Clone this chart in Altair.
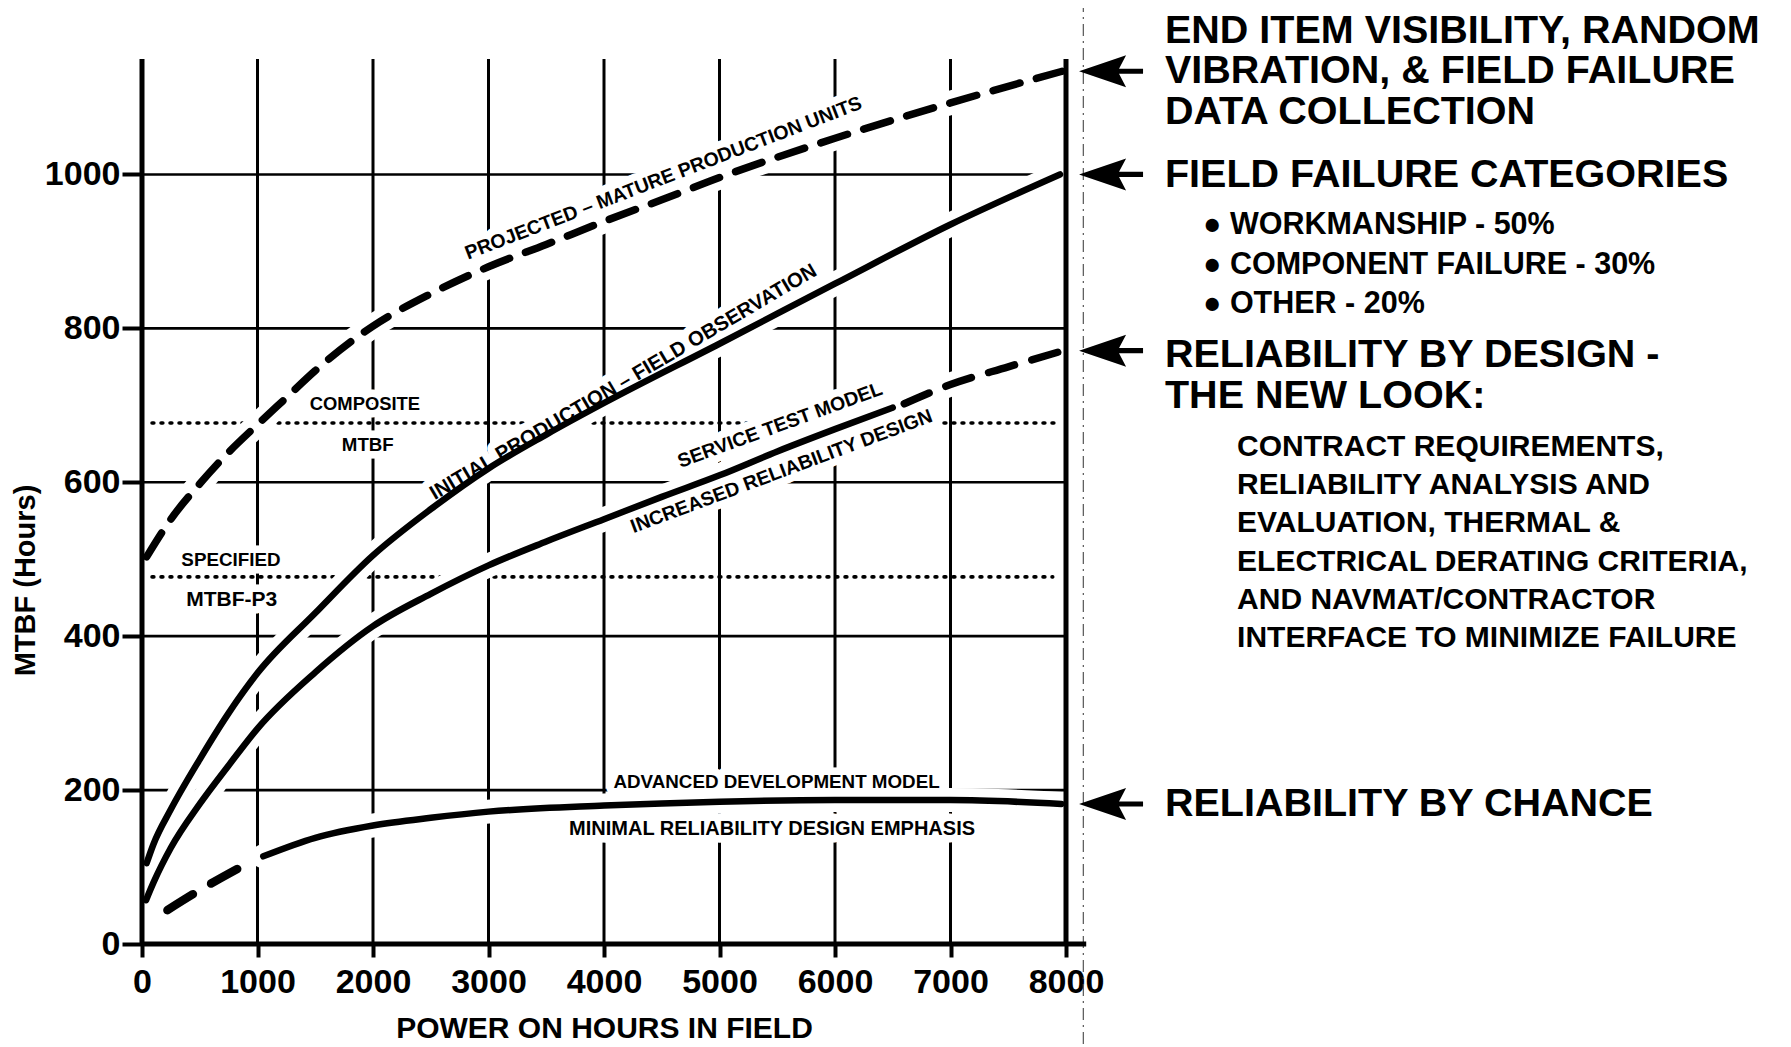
import altair as alt
import pandas as pd

# ---------------- data ----------------
X_TICKS = [0, 1000, 2000, 3000, 4000, 5000, 6000, 7000, 8000]
Y_TICKS = [0, 200, 400, 600, 800, 1000]
V_GRID = [1000, 2000, 3000, 4000, 5000, 6000, 7000]
H_GRID = [200, 400, 600, 800, 1000]

# Projected - mature production units (dashed)
proj_x = [40, 250, 500, 750, 1000, 1250, 1500, 2000, 2500, 3000, 3500, 4000, 4500, 5000, 6000, 7000, 7965]
proj_y = [503, 552, 598, 639, 675, 710, 745, 803, 845, 880, 909, 939, 967, 996, 1047, 1093, 1134]

# Initial production - field observation (solid)
init_x = [40, 100, 250, 500, 750, 1000, 1500, 2000, 2500, 3000, 3500, 4000, 5000, 6000, 7000, 7948]
init_y = [105, 130, 175, 240, 300, 352, 430, 505, 565, 618, 662, 703, 780, 858, 935, 1000]

# Service test model (solid part, then dashed)
stm_x = [35, 100, 250, 500, 750, 1000, 1500, 2000, 2500, 3000, 3500, 4000, 4500, 5000, 5500, 6000, 6500]
stm_y = [57, 80, 125, 182, 232, 280, 353, 413, 455, 492, 523, 552, 581, 609, 640, 669, 697]
stm_dash_x = [6600, 7000, 7500, 7930]
stm_dash_y = [702, 727, 750, 769]

# Advanced development model (dashed start, then solid)
adm_dash_x = [220, 500, 880]
adm_dash_y = [44, 70, 102]
adm_x = [1050, 1500, 2000, 2500, 3000, 4000, 5000, 6000, 7000, 7960]
adm_y = [114, 138, 154, 164, 172, 180, 185, 187, 187, 182]

# Reference MTBF levels (dotted)
ref_names = ["COMPOSITE MTBF", "SPECIFIED MTBF-P3"]
ref_y = [677, 477]
ref_x_start = [87, 87]
ref_x_end = [7905, 7885]

# Labels inside the plot
lab_text = ["PROJECTED – MATURE PRODUCTION UNITS", "INITIAL PRODUCTION – FIELD OBSERVATION",
            "SERVICE TEST MODEL", "INCREASED RELIABILITY DESIGN",
            "COMPOSITE", "MTBF", "SPECIFIED", "MTBF-P3",
            "ADVANCED DEVELOPMENT MODEL", "MINIMAL RELIABILITY DESIGN EMPHASIS"]
lab_x = [4515, 4168, 5524, 5537, 1930, 1955, 770, 777, 5494, 5455]
lab_y = [995, 730, 674, 614, 702, 648, 499, 447, 211, 150]
lab_angle = [339, 329.5, 340, 339.5, 0, 0, 0, 0, 0, 0]

# Arrows and notes on the right
arrow_y = [1134, 1000, 771, 182]
big_text = ["END ITEM VISIBILITY, RANDOM", "VIBRATION, & FIELD FAILURE", "DATA COLLECTION",
            "FIELD FAILURE CATEGORIES", "RELIABILITY BY DESIGN -", "THE NEW LOOK:",
            "RELIABILITY BY CHANCE"]
big_y = [1186.4, 1133.8, 1080.5, 999, 766, 712, 182]
bullet_text = ["● WORKMANSHIP - 50%", "● COMPONENT FAILURE - 30%", "● OTHER - 20%"]
bullet_y = [934, 882, 831]
para_text = ["CONTRACT REQUIREMENTS,", "RELIABILITY ANALYSIS AND", "EVALUATION, THERMAL &",
             "ELECTRICAL DERATING CRITERIA,", "AND NAVMAT/CONTRACTOR",
             "INTERFACE TO MINIMIZE FAILURE"]
para_y = [646, 596, 547, 496, 447, 397]

# annotation anchor columns (data units)
BIG_X, BULLET_X, PARA_X, ARROW_X, FOLD_X = 8857, 9186, 9481, 8390, 8150
AXIS_X_END = 8175
Y_TOP = 1150

# ---------------- styling ----------------
FONT = "Liberation Sans"
LABEL_SIZES = {"PROJECTED – MATURE PRODUCTION UNITS": 19.5,
               "INITIAL PRODUCTION – FIELD OBSERVATION": 20.3,
               "SERVICE TEST MODEL": 19.5, "INCREASED RELIABILITY DESIGN": 19.5,
               "COMPOSITE": 18.4, "MTBF": 18.7, "SPECIFIED": 18.8, "MTBF-P3": 21,
               "ADVANCED DEVELOPMENT MODEL": 18.8,
               "MINIMAL RELIABILITY DESIGN EMPHASIS": 20}

XS = alt.Scale(domain=[0, 8000], nice=False, zero=False)
YS = alt.Scale(domain=[0, Y_TOP], nice=False, zero=False)

XAX = alt.Axis(values=X_TICKS, format="d", domain=False, grid=False, ticks=True,
               tickSize=13, tickWidth=4, tickColor="black",
               labelFont=FONT, labelFontSize=34, labelFontWeight="bold", labelColor="black",
               labelPadding=8, labelFlush=False, labelOverlap=False,
               title="POWER ON HOURS IN FIELD", titleFont=FONT, titleFontSize=30,
               titleFontWeight="bold", titleColor="black", titleY=93,
               titleBaseline="alphabetic")
YAX = alt.Axis(values=Y_TICKS, format="d", domain=False, grid=False, ticks=True,
               tickSize=20, tickWidth=4, tickColor="black",
               labelFont=FONT, labelFontSize=34, labelFontWeight="bold", labelColor="black",
               labelPadding=2, labelOverlap=False,
               title="MTBF (Hours)", titleFont=FONT, titleFontSize=29, titleFontWeight="bold",
               titleColor="black", titleX=-117, titleY=521, titleAngle=270,
               titleAlign="center", titleBaseline="middle")


def xq(f="x"):
    return alt.X(f"{f}:Q", scale=XS, axis=XAX)


def yq(f="y"):
    return alt.Y(f"{f}:Q", scale=YS, axis=YAX)


# ---------------- tables ----------------
def curve_df(name, xs, ys):
    return pd.DataFrame({"x": xs, "y": ys, "series": name})


curves_all = pd.concat([
    curve_df("proj", proj_x, proj_y),
    curve_df("init", init_x, init_y),
    curve_df("stm", stm_x, stm_y),
    curve_df("stm_dash", stm_dash_x, stm_dash_y),
    curve_df("adm_dash", adm_dash_x, adm_dash_y),
    curve_df("adm", adm_x, adm_y),
], ignore_index=True)

vgrid_df = pd.DataFrame({"x": V_GRID, "y": 0, "y2": Y_TOP})
hgrid_df = pd.DataFrame({"y": H_GRID, "x": 0, "x2": 8000})
ref_df = pd.DataFrame({"name": ref_names, "y": ref_y, "x": ref_x_start, "x2": ref_x_end})
lab_df = pd.DataFrame({"text": lab_text, "x": lab_x, "y": lab_y, "angle": lab_angle})
lab_df["fs"] = lab_df["text"].map(LABEL_SIZES)
arrow_df = pd.DataFrame({"x": ARROW_X, "y": arrow_y})
big_df = pd.DataFrame({"text": big_text, "x": BIG_X, "y": big_y})
bullet_df = pd.DataFrame({"text": bullet_text, "x": BULLET_X, "y": bullet_y})
para_df = pd.DataFrame({"text": para_text, "x": PARA_X, "y": para_y})
fold_df = pd.DataFrame({"x": [FOLD_X], "y": [-130], "y2": [1225]})
yaxis_df = pd.DataFrame({"x": [0, 8000], "y": [0, 0], "y2": [Y_TOP, Y_TOP]})
xaxis_df = pd.DataFrame({"x": [0], "x2": [AXIS_X_END], "y": [0]})

# ---------------- layers ----------------
fold = alt.Chart(fold_df).mark_rule(strokeWidth=1.2, color="#555", strokeDash=[12, 5, 2, 5]).encode(
    x=xq(), y=yq(), y2="y2:Q")

vgrid = alt.Chart(vgrid_df).mark_rule(strokeWidth=3, color="black").encode(
    x=xq(), y=yq(), y2="y2:Q")
hgrid = alt.Chart(hgrid_df).mark_rule(strokeWidth=2.6, color="black").encode(
    y=yq(), x=xq(), x2="x2:Q")
refs = alt.Chart(ref_df).mark_rule(strokeWidth=3.6, color="black", strokeDash=[1.8, 7.2],
                                   strokeCap="round").encode(
    y=yq(), x=xq(), x2="x2:Q")

curve_halo = alt.Chart(curves_all).mark_line(
    color="white", strokeWidth=24, interpolate="monotone", strokeCap="round").encode(
    x=xq(), y=yq(), detail="series:N")

LAB = dict(font=FONT, fontWeight="bold", align="center", baseline="middle")
text_halo = alt.Chart(lab_df).mark_text(
    color="white", stroke="white", strokeWidth=15, strokeJoin="round", **LAB).encode(
    x=xq(), y=yq(), text="text:N", angle=alt.Angle("angle:Q", scale=None),
    size=alt.Size("fs:Q", scale=None))

axes_rules = alt.Chart(yaxis_df).mark_rule(strokeWidth=5, color="black").encode(
    x=xq(), y=yq(), y2="y2:Q")
xaxis_rule = alt.Chart(xaxis_df).mark_rule(strokeWidth=5, color="black").encode(
    x=xq(), x2="x2:Q", y=yq())

solid = alt.Chart(curves_all).transform_filter(
    alt.FieldOneOfPredicate(field="series", oneOf=["init", "stm", "adm"])).mark_line(
    color="black", strokeWidth=6.5, interpolate="monotone", strokeCap="round").encode(
    x=xq(), y=yq(), detail="series:N")

proj_line = alt.Chart(curves_all).transform_filter(alt.datum.series == "proj").mark_line(
    color="black", strokeWidth=7.5, interpolate="monotone", strokeCap="round",
    strokeDash=[28, 17]).encode(x=xq(), y=yq())
stm_dash = alt.Chart(curves_all).transform_filter(alt.datum.series == "stm_dash").mark_line(
    color="black", strokeWidth=7.5, interpolate="monotone", strokeCap="round",
    strokeDash=[27, 18]).encode(x=xq(), y=yq())
adm_dash = alt.Chart(curves_all).transform_filter(alt.datum.series == "adm_dash").mark_line(
    color="black", strokeWidth=8.5, interpolate="monotone", strokeCap="round",
    strokeDash=[30, 21]).encode(x=xq(), y=yq())

labels = alt.Chart(lab_df).mark_text(color="black", **LAB).encode(
    x=xq(), y=yq(), text="text:N", angle=alt.Angle("angle:Q", scale=None),
    size=alt.Size("fs:Q", scale=None))

ARROW_PATH = "M-1,0L0.47,-0.5L0.25,-0.08L1,-0.08L1,0.08L0.25,0.08L0.47,0.5Z"
arrows = alt.Chart(arrow_df).mark_point(
    shape=ARROW_PATH, size=4096, filled=True, color="black", opacity=1, strokeWidth=0).encode(
    x=xq(), y=yq())

RT = dict(font=FONT, fontWeight="bold", color="black", align="left", baseline="middle")
big = alt.Chart(big_df).mark_text(fontSize=39.5, **RT).encode(x=xq(), y=yq(), text="text:N")
bullets = alt.Chart(bullet_df).mark_text(fontSize=30.5, **RT).encode(x=xq(), y=yq(), text="text:N")
para = alt.Chart(para_df).mark_text(fontSize=30, **RT).encode(x=xq(), y=yq(), text="text:N")

chart = alt.layer(
    fold, vgrid, hgrid, refs, curve_halo, text_halo, axes_rules, xaxis_rule,
    solid, proj_line, stm_dash, adm_dash, labels, arrows, big, bullets, para
).properties(
    width=924, height=885,
    autosize=alt.AutoSizeParams(type="none"),
    padding={"left": 134, "top": 51, "right": 717, "bottom": 100},
    background="white",
).configure_view(stroke=None)

chart.save("out.html", embed_options={"renderer": "svg", "actions": False})
